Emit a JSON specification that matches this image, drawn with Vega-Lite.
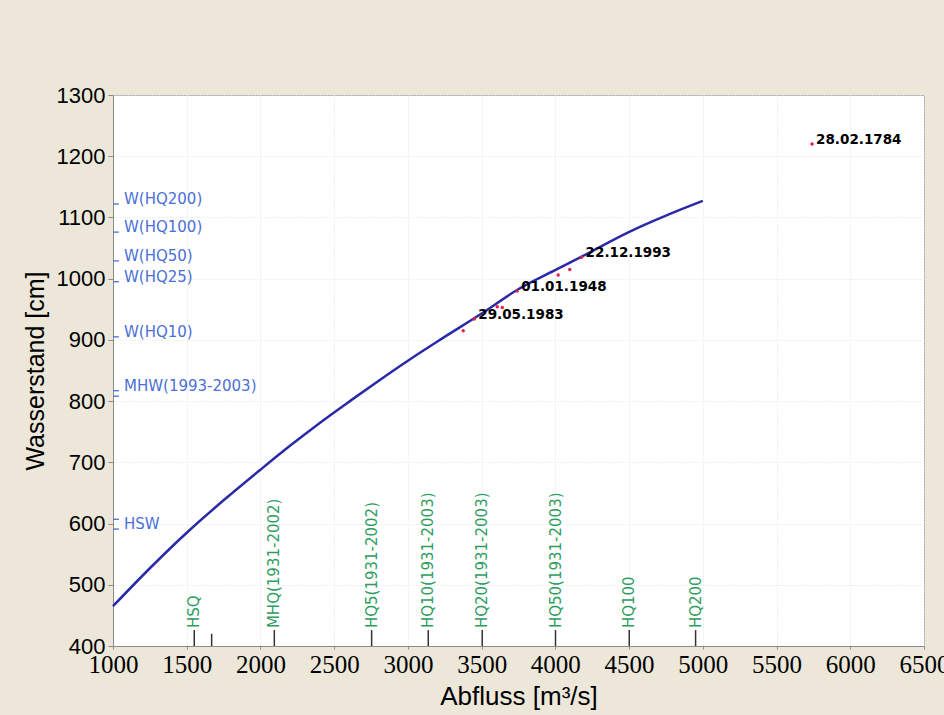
{
  "$schema": "https://vega.github.io/schema/vega-lite/v6.json",
  "autosize": {"type": "none"},
  "width": 811,
  "height": 551,
  "padding": {"left": 113, "top": 95, "right": 20, "bottom": 69},
  "background": "#ECE7D9",
  "config": {
    "view": {"fill": "#FFFFFF", "stroke": "#A8A8A8", "strokeWidth": 1},
    "axis": {
      "domainColor": "#8A8A8A",
      "tickColor": "#8A8A8A",
      "gridColor": "#E2E2E2",
      "gridDash": [1, 2],
      "gridWidth": 1,
      "labelColor": "#000000",
      "titleColor": "#000000",
      "titleFontWeight": "normal",
      "labelFlush": false,
      "labelOverlap": false,
      "format": "d"
    },
    "axisX": {
      "labelFont": "Liberation Sans Narrow",
      "labelFontSize": 25,
      "labelPadding": 3,
      "tickSize": 3,
      "titleFont": "Liberation Sans",
      "titleFontSize": 26,
      "titlePadding": 6
    },
    "axisY": {
      "labelFont": "Liberation Sans",
      "labelFontSize": 22,
      "labelPadding": 3,
      "tickSize": 5,
      "titleFont": "Liberation Sans",
      "titleFontSize": 25,
      "titlePadding": 8
    }
  },
  "datasets": {
    "curve": [
      {"Q": 1000, "W": 465},
      {"Q": 1250, "W": 527},
      {"Q": 1500, "W": 585},
      {"Q": 1750, "W": 638},
      {"Q": 2000, "W": 688},
      {"Q": 2200, "W": 727},
      {"Q": 2400, "W": 764},
      {"Q": 2618, "W": 802},
      {"Q": 2800, "W": 833},
      {"Q": 3000, "W": 866},
      {"Q": 3217, "W": 900},
      {"Q": 3500, "W": 943},
      {"Q": 3737, "W": 981},
      {"Q": 4008, "W": 1015},
      {"Q": 4178, "W": 1036},
      {"Q": 4505, "W": 1077},
      {"Q": 4750, "W": 1103},
      {"Q": 5000, "W": 1127}
    ],
    "events": [
      {"Q": 3375, "W": 915, "date": ""},
      {"Q": 3450, "W": 934, "date": "29.05.1983"},
      {"Q": 3606, "W": 954, "date": ""},
      {"Q": 3640, "W": 953, "date": ""},
      {"Q": 3741, "W": 980, "date": "01.01.1948"},
      {"Q": 4019, "W": 1006, "date": ""},
      {"Q": 4098, "W": 1015, "date": ""},
      {"Q": 4178, "W": 1035, "date": "22.12.1993"},
      {"Q": 5741, "W": 1220, "date": "28.02.1784"}
    ],
    "stages": [
      {"W": 1122, "name": "W(HQ200)"},
      {"W": 1076, "name": "W(HQ100)"},
      {"W": 1029, "name": "W(HQ50)"},
      {"W": 995, "name": "W(HQ25)"},
      {"W": 905, "name": "W(HQ10)"},
      {"W": 817, "name": "MHW(1993-2003)"},
      {"W": 808, "name": ""},
      {"W": 607, "name": ""},
      {"W": 591, "name": "HSW"}
    ],
    "discharges": [
      {"Q": 1551, "name": "HSQ"},
      {"Q": 2094, "name": "MHQ(1931-2002)"},
      {"Q": 2754, "name": "HQ5(1931-2002)"},
      {"Q": 3138, "name": "HQ10(1931-2003)"},
      {"Q": 3504, "name": "HQ20(1931-2003)"},
      {"Q": 4001, "name": "HQ50(1931-2003)"},
      {"Q": 4501, "name": "HQ100"},
      {"Q": 4951, "name": "HQ200"}
    ],
    "extraTick": [
      {"Q": 1669}
    ]
  },
  "layer": [
    {
      "data": {"name": "curve"},
      "mark": {"type": "line", "color": "#2A2AA8", "strokeWidth": 2.5, "interpolate": "monotone"},
      "encoding": {
        "x": {
          "field": "Q", "type": "quantitative", "title": "Abfluss [m³/s]",
          "scale": {"domain": [1000, 6500], "nice": false, "zero": false},
          "axis": {"values": [1000, 1500, 2000, 2500, 3000, 3500, 4000, 4500, 5000, 5500, 6000, 6500]}
        },
        "y": {
          "field": "W", "type": "quantitative", "title": "Wasserstand [cm]",
          "scale": {"domain": [400, 1300], "nice": false, "zero": false},
          "axis": {"values": [400, 500, 600, 700, 800, 900, 1000, 1100, 1200, 1300]}
        }
      }
    },
    {
      "data": {"name": "stages"},
      "mark": {"type": "rule", "color": "#4A6FD8", "strokeWidth": 1.3},
      "encoding": {
        "x": {"datum": 1000, "type": "quantitative", "title": "Abfluss [m³/s]"},
        "x2": {"datum": 1040},
        "y": {"field": "W", "type": "quantitative", "title": "Wasserstand [cm]"}
      }
    },
    {
      "data": {"name": "stages"},
      "transform": [{"filter": "datum.name !== ''"}],
      "mark": {"type": "text", "align": "left", "baseline": "middle", "dx": 11, "dy": -5, "font": "DejaVu Sans", "fontSize": 15, "color": "#4A6FD8"},
      "encoding": {
        "x": {"datum": 1000, "type": "quantitative", "title": "Abfluss [m³/s]"},
        "y": {"field": "W", "type": "quantitative", "title": "Wasserstand [cm]"},
        "text": {"field": "name"}
      }
    },
    {
      "data": {"name": "discharges"},
      "mark": {"type": "rule", "color": "#333333", "strokeWidth": 1.5},
      "encoding": {
        "x": {"field": "Q", "type": "quantitative", "title": "Abfluss [m³/s]"},
        "y": {"datum": 400, "type": "quantitative", "title": "Wasserstand [cm]"},
        "y2": {"datum": 426}
      }
    },
    {
      "data": {"name": "extraTick"},
      "mark": {"type": "rule", "color": "#333333", "strokeWidth": 1.5},
      "encoding": {
        "x": {"field": "Q", "type": "quantitative", "title": "Abfluss [m³/s]"},
        "y": {"datum": 400, "type": "quantitative", "title": "Wasserstand [cm]"},
        "y2": {"datum": 420}
      }
    },
    {
      "data": {"name": "discharges"},
      "mark": {"type": "text", "angle": 270, "align": "left", "baseline": "middle", "dx": 2, "font": "DejaVu Sans", "fontSize": 15, "color": "#2E9E5F"},
      "encoding": {
        "x": {"field": "Q", "type": "quantitative", "title": "Abfluss [m³/s]"},
        "y": {"datum": 426, "type": "quantitative", "title": "Wasserstand [cm]"},
        "text": {"field": "name"}
      }
    },
    {
      "data": {"name": "events"},
      "mark": {"type": "circle", "color": "#E0204A", "size": 12, "opacity": 1},
      "encoding": {
        "x": {"field": "Q", "type": "quantitative", "title": "Abfluss [m³/s]"},
        "y": {"field": "W", "type": "quantitative", "title": "Wasserstand [cm]"}
      }
    },
    {
      "data": {"name": "events"},
      "transform": [{"filter": "datum.date !== ''"}],
      "mark": {"type": "text", "align": "left", "baseline": "alphabetic", "dx": 4, "font": "DejaVu Sans", "fontWeight": "bold", "fontSize": 13.5, "color": "#000000"},
      "encoding": {
        "x": {"field": "Q", "type": "quantitative", "title": "Abfluss [m³/s]"},
        "y": {"field": "W", "type": "quantitative", "title": "Wasserstand [cm]"},
        "text": {"field": "date"}
      }
    }
  ]
}
